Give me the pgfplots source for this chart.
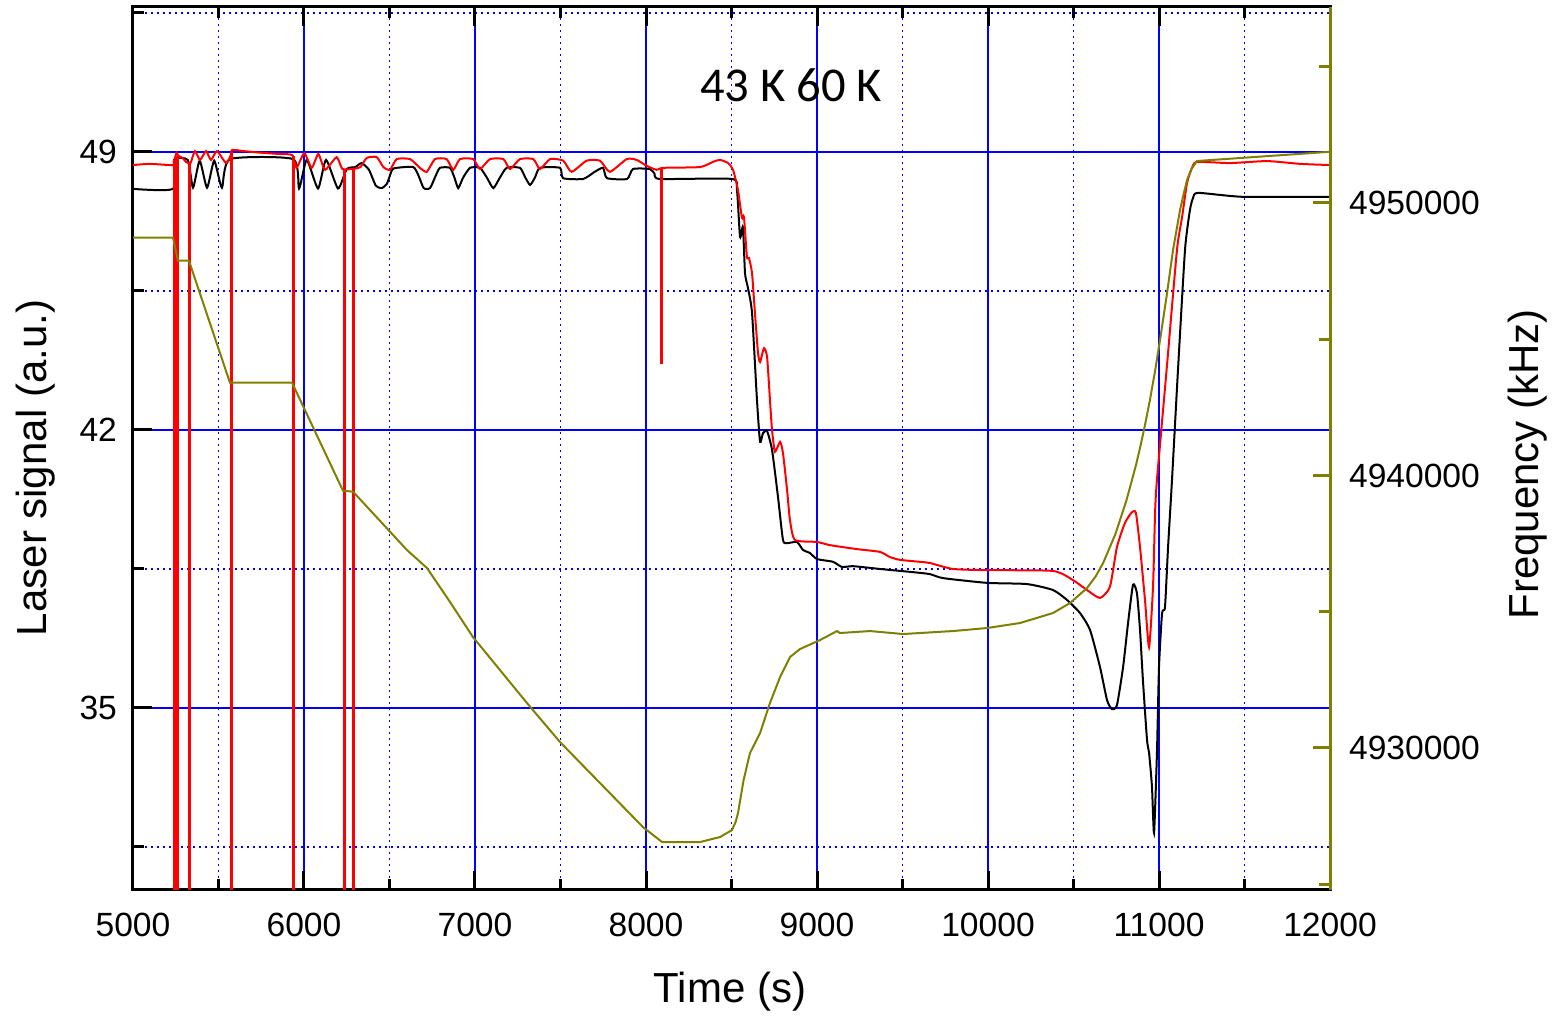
\documentclass[border=0pt]{standalone}
\usepackage{pgfplots}
\pgfplotsset{compat=1.18}
\usepackage{fontspec}
\setmainfont{Liberation Sans}
\newfontfamily\carlito{Carlito}
\definecolor{olivec}{RGB}{128,128,0}
\begin{document}
\begin{tikzpicture}
\begin{axis}[
  scale only axis,
  width=598.5pt, height=441.5pt,
  xmin=5000, xmax=12000,
  ymin=30.417, ymax=52.65,
  xtick={5000,6000,...,12000},
  minor xtick={5500,6500,...,11500},
  ytick={35,42,49},
  minor ytick={31.5,38.5,45.5,52.5},
  grid=both,
  major grid style={blue, line width=0.8pt, solid},
  minor grid style={blue, line width=0.8pt, dash pattern=on 0.8pt off 2.2pt},
  tick align=inside,
  xtick pos=both,
  ytick pos=left,
  xticklabel pos=bottom,
  axis line style={line width=1.5pt},
  major tick length=9.5pt, minor tick length=5.5pt,
  every tick/.style={black, line width=1.5pt},
  /pgf/number format/.cd, fixed, precision=0, 1000 sep={}, assume math mode=true,
  /pgfplots/.cd,
  scaled ticks=false,
  unbounded coords=jump,
  tick label style={font=\fontsize{16.8}{19}\selectfont},
  xticklabel style={yshift=-8pt},
  yticklabel style={xshift=-4.5pt},
  xlabel={Time (s)},
  ylabel={Laser signal (a.u.)},
  label style={font=\fontsize{21}{25}\selectfont},
  xlabel style={at={(axis description cs:0.4987,-0.115)}, anchor=center},
  ylabel style={at={(axis description cs:-0.0815,0.478)}, anchor=center},
]
\addplot[black, line width=1pt, smooth, tension=0.35] coordinates {
(5000,48.07) (5234,48.07) (5240,48.80) (5320,48.80) (5351,48.10) (5390,48.78) (5433,48.10) (5475,48.78) (5520,48.10) (5567,48.82) (5936,48.82) (5971,48.08) (6016,48.80) (6082,48.08) (6129,48.80) (6199,48.08) (6250,48.57) (6300,48.62) (6337,48.72) (6380,48.55) (6420,48.15) (6454,48.09) (6485,48.20) (6515,48.55) (6542,48.60) (6639,48.62) (6670,48.40) (6700,48.09) (6737,48.09) (6770,48.40) (6795,48.60) (6854,48.60) (6880,48.35) (6902,48.09) (6930,48.35) (6971,48.60) (7029,48.60) (7070,48.35) (7107,48.09) (7145,48.35) (7185,48.60) (7263,48.60) (7295,48.35) (7322,48.17) (7350,48.35) (7380,48.60) (7497,48.60) (7515,48.34) (7633,48.32) (7700,48.50) (7749,48.60) (7772,48.34) (7889,48.32) (7924,48.57) (8023,48.57) (8050,48.45) (8082,48.32) (8503,48.32) (8532,48.04) (8550,46.86) (8567,47.11) (8579,45.95) (8596,45.58) (8620,44.95) (8649,42.75) (8667,41.70) (8684,41.92) (8708,41.97) (8737,41.50) (8772,40.31) (8801,39.23) (8825,39.15) (8883,39.18) (8918,38.98) (8959,38.90) (9000,38.75) (9094,38.68) (9146,38.55) (9211,38.57) (9368,38.50) (9561,38.42) (9661,38.37) (9737,38.27) (9994,38.15) (10228,38.12) (10380,37.97) (10462,37.72) (10538,37.39) (10597,36.96) (10655,36.03) (10696,35.20) (10725,34.97) (10754,35.07) (10790,36.03) (10819,37.14) (10848,38.10) (10871,37.89) (10889,36.96) (10906,35.70) (10930,34.19) (10942,33.87) (10959,33.01) (10971,31.85) (10988,33.87) (11000,36.03) (11018,37.39) (11035,37.54) (11053,39.05) (11076,40.74) (11111,43.51) (11152,46.53) (11181,47.54) (11199,47.84) (11228,47.97) (11491,47.87) (12000,47.87)
};
\addplot[red, line width=1pt, smooth, tension=0.35] coordinates {
(5000,48.67) (5100,48.70) (5236,48.67) (5243,48.80) (5255,48.98) (5266,48.9) (5290,48.85) (5310,48.75) (5336,48.72) (5362,49.02) (5392,48.80) (5427,49.02) (5456,48.80) (5491,49.02) (5544,48.72) (5570,48.9) (5580,49.05) (5650,49.02) (5750,48.98) (5850,48.95) (5932,48.92) (5956,48.60) (6002,48.97) (6045,48.60) (6084,48.95) (6123,48.55) (6191,48.87) (6225,48.57) (6295,48.58) (6330,48.62) (6367,48.85) (6425,48.87) (6464,48.62) (6503,48.55) (6542,48.82) (6620,48.82) (6678,48.60) (6718,48.50) (6766,48.82) (6834,48.82) (6873,48.55) (6912,48.82) (6990,48.82) (7029,48.57) (7088,48.82) (7166,48.82) (7205,48.57) (7263,48.82) (7341,48.82) (7380,48.57) (7439,48.82) (7516,48.78) (7565,48.50) (7653,48.78) (7731,48.78) (7789,48.50) (7887,48.82) (7945,48.80) (8004,48.65) (8062,48.55) (8101,48.60) (8316,48.62) (8392,48.75) (8433,48.80) (8480,48.72) (8509,48.55) (8538,48.04) (8561,47.34) (8573,47.36) (8590,46.36) (8602,46.33) (8620,45.95) (8637,44.95) (8655,43.94) (8667,43.71) (8690,44.06) (8708,43.84) (8725,42.75) (8737,42.00) (8754,41.45) (8784,41.70) (8801,41.42) (8825,40.49) (8842,39.73) (8871,39.23) (9000,39.18) (9076,39.10) (9234,39.00) (9368,38.93) (9427,38.80) (9485,38.73) (9602,38.68) (9661,38.65) (9795,38.50) (9994,38.47) (10380,38.45) (10497,38.22) (10579,37.97) (10655,37.77) (10713,38.05) (10754,39.05) (10801,39.66) (10842,39.93) (10865,39.91) (10889,39.05) (10918,37.72) (10942,36.53) (10965,38.05) (10977,39.91) (10988,40.74) (11047,43.64) (11105,46.53) (11135,47.36) (11164,48.22) (11193,48.60) (11222,48.75) (11415,48.72) (11632,48.77) (11825,48.70) (12000,48.67)
};
\addplot[red, line width=1.5pt] coordinates {
(5240,48.80) (5240,20) (5240,nan)
(5263,48.90) (5263,20) (5263,nan)
(5333,48.72) (5333,20) (5333,nan)
(5574,49.00) (5574,20) (5574,nan)
(5936,48.90) (5936,20) (5936,nan)
(6234,48.57) (6234,20) (6234,nan)
(6292,48.58) (6292,20) (6292,nan)
(8090,48.57) (8090,43.67)
};
\node[font=\carlito\fontsize{24.3}{28}\selectfont, anchor=center] at (axis cs:8848,50.69) {43 K 60 K};
\end{axis}
\begin{axis}[
  scale only axis,
  width=598.5pt, height=441.5pt,
  xmin=5000, xmax=12000,
  ymin=4924789, ymax=4957193,
  axis x line=none,
  axis y line*=right,
  y axis line style={olivec, line width=1.5pt, -},
  ytick={4930000,4940000,4950000},
  minor ytick={4925000,4935000,4945000,4955000},
  tick align=inside,
  major tick length=8.5pt, minor tick length=5.5pt,
  every tick/.style={olivec, line width=1.5pt},
  /pgf/number format/.cd, fixed, precision=0, 1000 sep={}, assume math mode=true,
  /pgfplots/.cd,
  scaled ticks=false,
  tick label style={font=\fontsize{16.8}{19}\selectfont},
  yticklabel style={xshift=6pt},
  ylabel={Frequency (kHz)},
  label style={font=\fontsize{21}{25}\selectfont},
  ylabel style={at={(axis description cs:1.1654,0.482)}, anchor=center},
]
\addplot[olivec, line width=1pt] coordinates {
(5000,4948727) (5234,4948727) (5263,4947883) (5327,4947883) (5567,4943405) (5930,4943405) (6228,4939441) (6287,4939405) (6602,4937265) (6719,4936606) (6854,4935357) (6988,4934072) (7304,4931650) (7497,4930219) (7731,4928714) (7982,4927099) (8094,4926549) (8316,4926549) (8433,4926732) (8503,4926989) (8525,4927300) (8538,4927613) (8570,4928800) (8608,4929815) (8667,4930549) (8725,4931650) (8784,4932604) (8842,4933338) (8901,4933632) (9018,4933962) (9117,4934292) (9134,4934219) (9310,4934292) (9503,4934182) (9795,4934292) (9994,4934402) (10187,4934586) (10380,4934953) (10480,4935320) (10579,4935870) (10630,4936300) (10673,4936788) (10713,4937375) (10745,4937850) (10772,4938366) (10810,4939100) (10842,4939834) (10866,4940400) (10889,4941009) (10918,4941850) (10947,4942770) (10976,4943800) (11006,4944972) (11045,4946600) (11082,4948275) (11123,4949743) (11145,4950350) (11164,4950844) (11190,4951250) (11222,4951541) (11982,4951872) (12000,4951872)
};
\end{axis}
\pgfresetboundingbox
\path[use as bounding box] (-66.5pt,-63pt) rectangle (715pt,445pt);
\end{tikzpicture}
\end{document}
